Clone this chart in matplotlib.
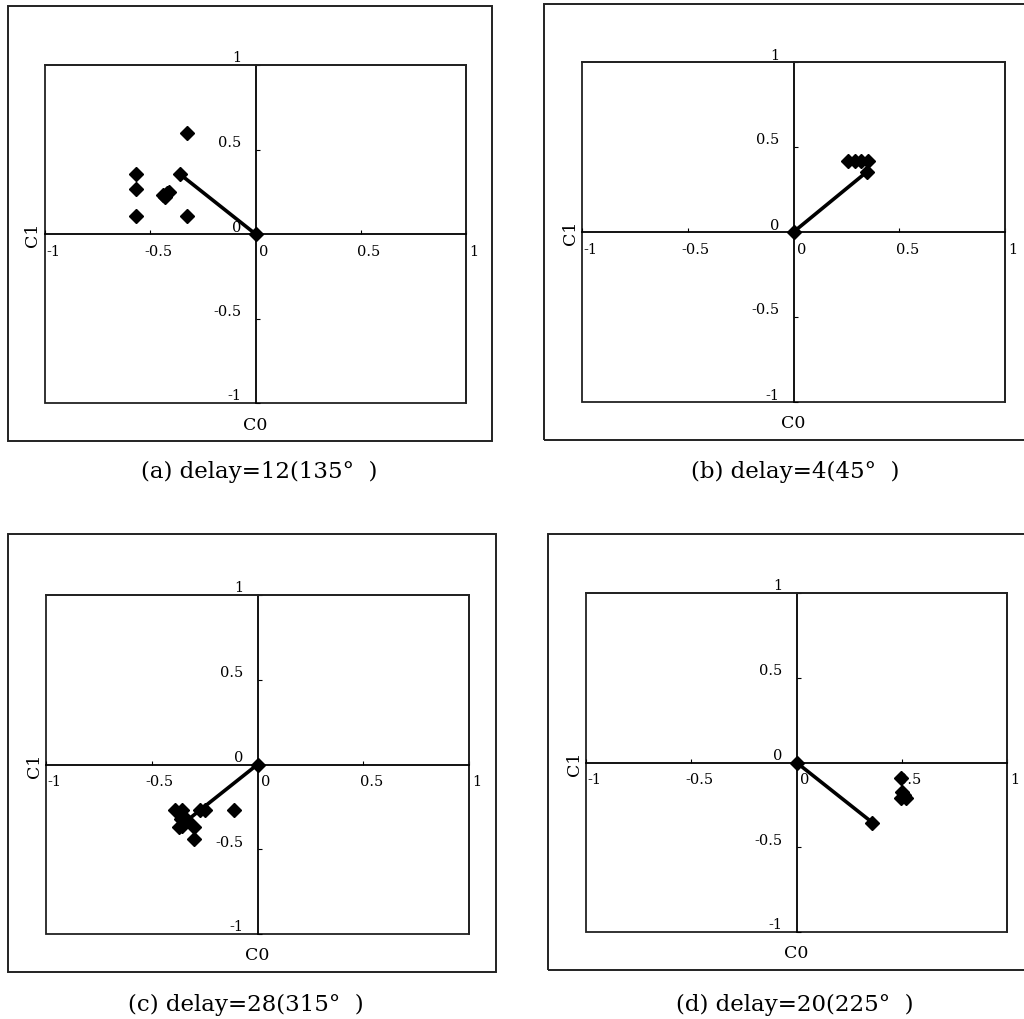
import matplotlib
matplotlib.use('Agg')
import matplotlib.pyplot as plt
import matplotlib.transforms as mtransforms
from matplotlib.patches import Rectangle

# 各パネルの点データ (C0, C1)
a_x = [-0.325, -0.57, -0.57, -0.57, -0.325, -0.44, -0.42, -0.41, -0.43]
a_y = [0.60, 0.355, 0.266, 0.108, 0.108, 0.23, 0.24, 0.25, 0.22]
a_vec = [-0.36, 0.355]

b_x = [0.26, 0.29, 0.32, 0.35]
b_y = [0.42, 0.42, 0.42, 0.42]
b_vec = [0.348, 0.355]

c_x = [-0.388, -0.356, -0.27, -0.25, -0.11, -0.364, -0.356, -0.30, -0.30, -0.37]
c_y = [-0.27, -0.27, -0.27, -0.27, -0.27, -0.32, -0.36, -0.37, -0.44, -0.37]
c_vec = [-0.333, -0.33]

d_x = [0.497, 0.50, 0.52, 0.495, 0.51]
d_y = [-0.09, -0.173, -0.21, -0.21, -0.19]
d_vec = [0.36, -0.354]

captions = ['(a) delay=12(135°  )', '(b) delay=4(45°  )',
            '(c) delay=28(315°  )', '(d) delay=20(225°  )']
ticks = [-1, -0.5, 0, 0.5, 1]
tick_labels = ['-1', '-0.5', '0', '0.5', '1']

W, H = 1024, 1020
fig = plt.figure(figsize=(W / 100, H / 100), dpi=100)

# ピクセル座標 (left, top, right, bottom)
axes_px = [(45, 66, 466, 404), (582, 63, 1005, 403),
           (46, 596, 469, 935), (586, 594, 1007, 933)]
frame_px = [(8, 7, 492, 442), (544, 5, 1030, 441),
            (8, 535, 496, 973), (548, 535, 1030, 971)]
cap_px = [(259, 472), (795, 472), (246, 1005), (795, 1005)]

panels = [(a_x, a_y, a_vec), (b_x, b_y, b_vec), (c_x, c_y, c_vec), (d_x, d_y, d_vec)]

for i, (px, py, vec) in enumerate(panels):
    l, t, r, b = axes_px[i]
    ax = fig.add_axes([l / W, (H - b) / H, (r - l) / W, (b - t) / H])
    ax.set_xlim(-1, 1)
    ax.set_ylim(-1, 1)
    ax.spines['left'].set_position(('data', 0))
    ax.spines['bottom'].set_position(('data', 0))
    for s in ['left', 'bottom']:
        ax.spines[s].set_linewidth(1.3)
    for s in ['top', 'right']:
        ax.spines[s].set_linewidth(1.3)
        ax.spines[s].set_color('#222222')
    ax.add_patch(Rectangle((0, 0), 1, 1, transform=ax.transAxes, fill=False,
                           lw=1.3, ec='#222222', clip_on=False))
    ax.set_xticks(ticks)
    ax.set_xticklabels(tick_labels)
    ax.set_yticks(ticks)
    ax.set_yticklabels(tick_labels)
    ax.tick_params(direction='in', length=3, width=0.8, labelsize=10.5,
                   pad=7)
    ax.tick_params(axis='y', pad=10)
    dx = mtransforms.ScaledTranslation(8 / 100, 0, fig.dpi_scale_trans)
    dy = mtransforms.ScaledTranslation(0, 9 / 100, fig.dpi_scale_trans)
    for lab in ax.get_xticklabels():
        lab.set_transform(lab.get_transform() + dx)
        lab.set_fontfamily('DejaVu Serif')
    for lab in ax.get_yticklabels():
        lab.set_transform(lab.get_transform() + dy)
        lab.set_fontfamily('DejaVu Serif')

    ax.plot([0, vec[0]], [0, vec[1]], color='black', lw=2.6,
            marker='D', markersize=7, zorder=3)
    ax.plot(px, py, linestyle='none', marker='D', color='black',
            markersize=7, zorder=3)

    # 軸ラベル
    fig.text((l - 12) / W, 1 - (t + b) / 2 / H, 'C1', rotation=90,
             ha='center', va='center', fontsize=12.5, family='DejaVu Serif')
    fig.text(((l + r) / 2) / W, 1 - (b + 21) / H, 'C0',
             ha='center', va='center', fontsize=12.5, family='DejaVu Serif')

    fl, ft, fr, fb = frame_px[i]
    fig.add_artist(Rectangle((fl / W, 1 - fb / H), (fr - fl) / W, (fb - ft) / H,
                             transform=fig.transFigure, fill=False,
                             lw=1.4, ec='#222222'))
    cx, cy = cap_px[i]
    fig.text(cx / W, 1 - cy / H, captions[i], ha='center', va='center',
             fontsize=16.5, family='DejaVu Serif')

fig.savefig('out.png', dpi=100)
